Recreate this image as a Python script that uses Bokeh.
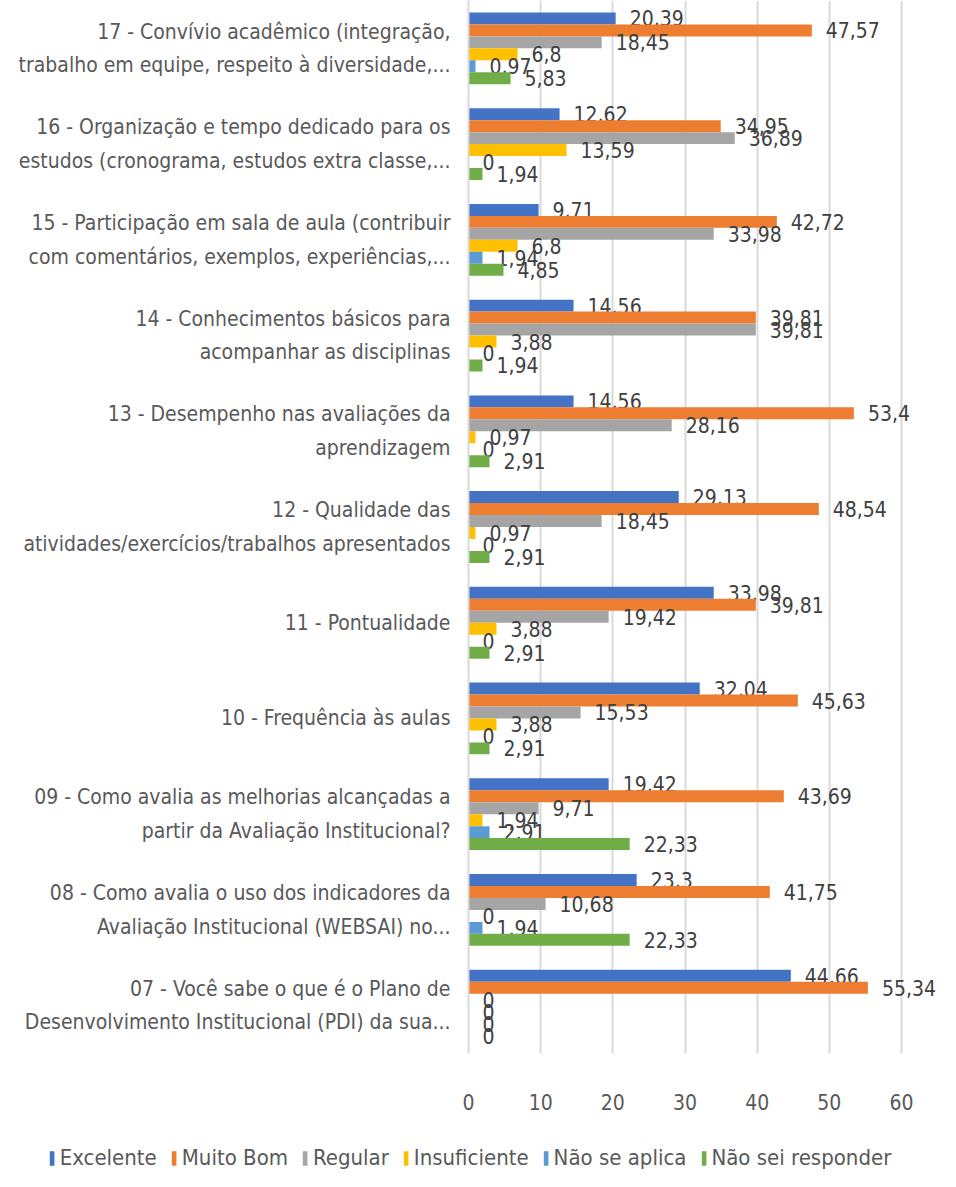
from bokeh.plotting import figure
from bokeh.models import ColumnDataSource, FactorRange, Range1d, FixedTicker, Legend, LegendItem
from bokeh.transform import dodge
from bokeh.core.properties import value
from bokeh.embed import file_html
from bokeh.resources import INLINE

categories = [
    "17 - Convívio acadêmico (integração,\ntrabalho em equipe, respeito à diversidade,...",
    "16 - Organização e tempo dedicado para os\nestudos (cronograma, estudos extra classe,...",
    "15 - Participação em sala de aula (contribuir\ncom comentários, exemplos, experiências,...",
    "14 - Conhecimentos básicos para\nacompanhar as disciplinas",
    "13 - Desempenho nas avaliações da\naprendizagem",
    "12 - Qualidade das\natividades/exercícios/trabalhos apresentados",
    "11 - Pontualidade",
    "10 - Frequência às aulas",
    "09 - Como avalia as melhorias alcançadas a\npartir da Avaliação Institucional?",
    "08 - Como avalia o uso dos indicadores da\nAvaliação Institucional (WEBSAI) no...",
    "07 - Você sabe o que é o Plano de\nDesenvolvimento Institucional (PDI) da sua...",
]
excelente = [20.39, 12.62, 9.71, 14.56, 14.56, 29.13, 33.98, 32.04, 19.42, 23.3, 44.66]
muito_bom = [47.57, 34.95, 42.72, 39.81, 53.4, 48.54, 39.81, 45.63, 43.69, 41.75, 55.34]
regular = [18.45, 36.89, 33.98, 39.81, 28.16, 18.45, 19.42, 15.53, 9.71, 10.68, 0]
insuficiente = [6.8, 13.59, 6.8, 3.88, 0.97, 0.97, 3.88, 3.88, 1.94, 0, 0]
nao_se_aplica = [0.97, 0, 1.94, 0, 0, 0, 0, 0, 2.91, 1.94, 0]
nao_sei = [5.83, 1.94, 4.85, 1.94, 2.91, 2.91, 2.91, 2.91, 22.33, 22.33, 0]

series_names = ["Excelente", "Muito Bom", "Regular", "Insuficiente", "Não se aplica", "Não sei responder"]
series_values = [excelente, muito_bom, regular, insuficiente, nao_se_aplica, nao_sei]
colors = ["#4472C4", "#ED7D31", "#A5A5A5", "#FFC000", "#5B9BD5", "#70AD47"]
x_ticks = [0, 10, 20, 30, 40, 50, 60]

FONT = "'DejaVu Sans Condensed', 'Liberation Sans Narrow', sans-serif"

data = {"cat": categories}
for i, vals in enumerate(series_values):
    data[f"s{i}"] = vals
    data[f"l{i}"] = [f"{v:g}".replace(".", ",") for v in vals]
source = ColumnDataSource(data)

p = figure(
    frame_width=472, frame_height=1053,
    y_range=FactorRange(factors=list(reversed(categories)), range_padding=0),
    x_range=Range1d(0, 65.4),
    output_backend="svg", toolbar_location=None,
    min_border_left=468, min_border_right=0, min_border_top=0, min_border_bottom=70,
)
p.y_range.factor_padding = 0
p.outline_line_color = None

bar_h = 0.125
for i, name in enumerate(series_names):
    off = (2.5 - i) * bar_h
    y = dodge("cat", off, range=p.y_range)
    p.hbar(y=y, left=0, right=f"s{i}", height=bar_h, source=source,
           fill_color=colors[i], line_color=None)
    p.text(x=f"s{i}", y=y, text=f"l{i}", source=source, x_offset=14,
           text_baseline="middle", text_align="left",
           text_font=value(FONT), text_font_size="21px", text_color="#404040")

# axes
p.xaxis.ticker = FixedTicker(ticks=x_ticks)
p.xaxis.axis_line_color = None
p.xaxis.major_tick_line_color = None
p.xaxis.minor_tick_line_color = None
p.xaxis.major_tick_out = 0
p.xaxis.major_label_standoff = 40
p.xaxis.major_label_text_font = FONT
p.xaxis.major_label_text_font_size = "21px"
p.xaxis.major_label_text_color = "#595959"

p.yaxis.axis_line_color = "#D9D9D9"
p.yaxis.axis_line_width = 2
p.yaxis.major_tick_line_color = None
p.yaxis.minor_tick_line_color = None
p.yaxis.major_tick_out = 0
p.yaxis.major_label_standoff = 18
p.yaxis.major_label_text_font = FONT
p.yaxis.major_label_text_font_size = "21px"
p.yaxis.major_label_text_color = "#595959"
p.yaxis.major_label_text_line_height = 1.4

p.xgrid.ticker = FixedTicker(ticks=x_ticks)
p.xgrid.grid_line_color = "#D9D9D9"
p.xgrid.grid_line_width = 2
p.ygrid.grid_line_color = None

# separate legend strip (own root, full width)
lf = figure(width=940, height=50,
            y_range=FactorRange(factors=list(reversed(categories))),
            x_range=Range1d(-2, -1),
            output_backend="svg", toolbar_location=None,
            min_border_left=0, min_border_right=0, min_border_top=0, min_border_bottom=0)
lf.axis.visible = False
lf.grid.visible = False
lf.outline_line_color = None
items = []
for i, name in enumerate(series_names):
    r = lf.hbar(y="cat", left=0, right=f"s{i}", height=0.5, source=source,
                fill_color=colors[i], line_color=None)
    items.append(LegendItem(label=name, renderers=[r]))
legend = Legend(items=items, orientation="horizontal", location="bottom_center",
                glyph_width=6, glyph_height=18, label_standoff=5, spacing=14,
                label_text_font=FONT, label_text_font_size="22px",
                label_text_color="#595959", border_line_color=None,
                background_fill_alpha=0, margin=3, padding=0)
lf.add_layout(legend, "center")

open("out.html", "w").write(file_html([p, lf], INLINE))
